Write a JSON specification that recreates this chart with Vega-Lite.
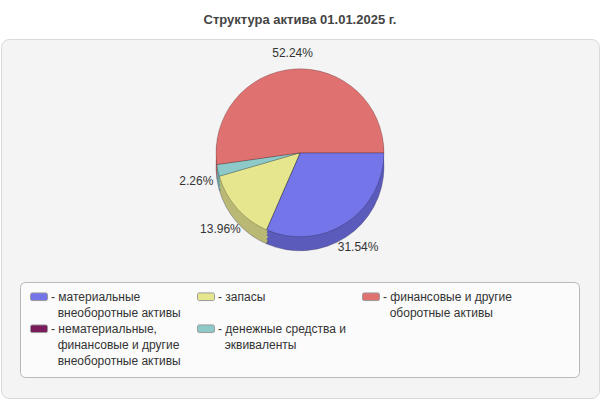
{
  "$schema": "https://vega.github.io/schema/vega-lite/v6.json",
  "width": 600,
  "height": 400,
  "autosize": {"type": "fit", "contains": "padding"},
  "padding": {"left": 1, "right": 1, "top": 14, "bottom": 2},
  "background": "#ffffff",
  "view": {"fill": "#f4f4f4", "stroke": "#d9d9d9", "cornerRadius": 8},
  "title": {
    "text": "Структура актива 01.01.2025 г.",
    "font": "Liberation Sans",
    "fontSize": 13,
    "fontWeight": "bold",
    "color": "#444444",
    "anchor": "middle",
    "offset": 12
  },
  "data": {
    "values": [
      {"item": "материальные внеоборотные активы", "idx": 1, "share": 0.3154},
      {"item": "нематериальные, финансовые и другие внеоборотные активы", "idx": 2, "share": 0},
      {"item": "запасы", "idx": 3, "share": 0.1396},
      {"item": "денежные средства и эквиваленты", "idx": 4, "share": 0.0226},
      {"item": "финансовые и другие оборотные активы", "idx": 5, "share": 0.5224}
    ]
  },
  "encoding": {
    "theta": {"field": "share", "type": "quantitative", "stack": true, "scale": {"range": [1.5708, 7.854]}},
    "order": {"field": "idx", "type": "quantitative"}
  },
  "layer": [
    {
      "mark": {"type": "arc", "outerRadius": 84, "x": {"expr": "width / 2"}, "y": {"expr": "height * 0.317"}, "yOffset": 14, "stroke": "#333355", "strokeOpacity": 0.5, "strokeWidth": 0.7},
      "encoding": {
        "fill": {
          "field": "item",
          "type": "nominal",
          "scale": {
            "domain": ["материальные внеоборотные активы", "нематериальные, финансовые и другие внеоборотные активы", "запасы", "денежные средства и эквиваленты", "финансовые и другие оборотные активы"],
            "range": ["#5b5bbb", "#5a1444", "#b9b975", "#6fa3a3", "#b35a5a"]
          },
          "legend": null
        }
      }
    },
    {
      "mark": {"type": "arc", "outerRadius": 84, "x": {"expr": "width / 2"}, "y": {"expr": "height * 0.317"}, "yOffset": 10},
      "encoding": {"fill": {"field": "item", "type": "nominal", "legend": null}}
    },
    {
      "mark": {"type": "arc", "outerRadius": 84, "x": {"expr": "width / 2"}, "y": {"expr": "height * 0.317"}, "yOffset": 6},
      "encoding": {"fill": {"field": "item", "type": "nominal", "legend": null}}
    },
    {
      "mark": {"type": "arc", "outerRadius": 84, "x": {"expr": "width / 2"}, "y": {"expr": "height * 0.317"}, "yOffset": 3},
      "encoding": {"fill": {"field": "item", "type": "nominal", "legend": null}}
    },
    {
      "mark": {"type": "arc", "outerRadius": 84, "x": {"expr": "width / 2"}, "y": {"expr": "height * 0.317"}, "stroke": "#000000", "strokeOpacity": 0.3, "strokeWidth": 0.7},
      "encoding": {
        "color": {
          "field": "item",
          "type": "nominal",
          "scale": {
            "domain": ["материальные внеоборотные активы", "нематериальные, финансовые и другие внеоборотные активы", "запасы", "денежные средства и эквиваленты", "финансовые и другие оборотные активы"],
            "range": ["#7575ea", "#7a1c5c", "#e6e68f", "#8ec9c9", "#e07171"]
          },
          "legend": {
            "orient": "none",
            "legendX": 19,
            "legendY": 243,
            "columns": 3,
            "columnPadding": 14,
            "rowPadding": 3,
            "title": null,
            "labelExpr": "datum.label == 'запасы' ? ['- запасы', '\u200b\u00a0'] : datum.label == 'материальные внеоборотные активы' ? ['- материальные', '\u200b\u00a0\u00a0внеоборотные активы'] : datum.label == 'финансовые и другие оборотные активы' ? ['- финансовые и другие\u00a0\u00a0\u00a0\u00a0\u00a0\u00a0\u00a0\u00a0\u00a0\u00a0\u00a0\u00a0\u00a0\u00a0\u00a0\u00a0\u00a0\u200b', '\u200b\u00a0\u00a0оборотные активы'] : datum.label == 'денежные средства и эквиваленты' ? ['- денежные средства и', '\u200b\u00a0\u00a0эквиваленты'] : ['- нематериальные,', '\u200b\u00a0\u00a0финансовые и другие', '\u200b\u00a0\u00a0внеоборотные активы']",
            "symbolType": "M-0.8,-0.95H0.8A0.2,0.2 0 0 1 1,-0.75V-0.25A0.2,0.2 0 0 1 0.8,-0.05H-0.8A0.2,0.2 0 0 1 -1,-0.25V-0.75A0.2,0.2 0 0 1 -0.8,-0.95Z",
            "symbolSize": 289,
            "symbolStrokeColor": "#9a9a9a",
            "symbolStrokeWidth": 1,
            "symbolOpacity": 1,
            "labelFont": "Liberation Sans",
            "labelFontSize": 12,
            "labelColor": "#333333",
            "labelOffset": 3,
            "labelBaseline": "alphabetic",
            "labelLimit": 0,
            "fillColor": "#fbfbfb",
            "strokeColor": "#b8b8b8",
            "cornerRadius": 5,
            "padding": 10
          }
        }
      }
    },
    {
      "transform": [{"filter": "datum.share > 0"}],
      "mark": {"type": "text", "radius": 106, "x": {"expr": "width / 2"}, "y": {"expr": "height * 0.317"}, "yOffset": 6, "font": "Liberation Sans", "fontSize": 12, "fill": "#333333"},
      "encoding": {
        "text": {"field": "share", "type": "quantitative", "format": ".2%"}
      }
    }
  ],
  "resolve": {"legend": {"color": "independent", "fill": "independent"}},
  "config": {
    "style": {"guide-label": {"lineHeight": 16}}
  }
}
